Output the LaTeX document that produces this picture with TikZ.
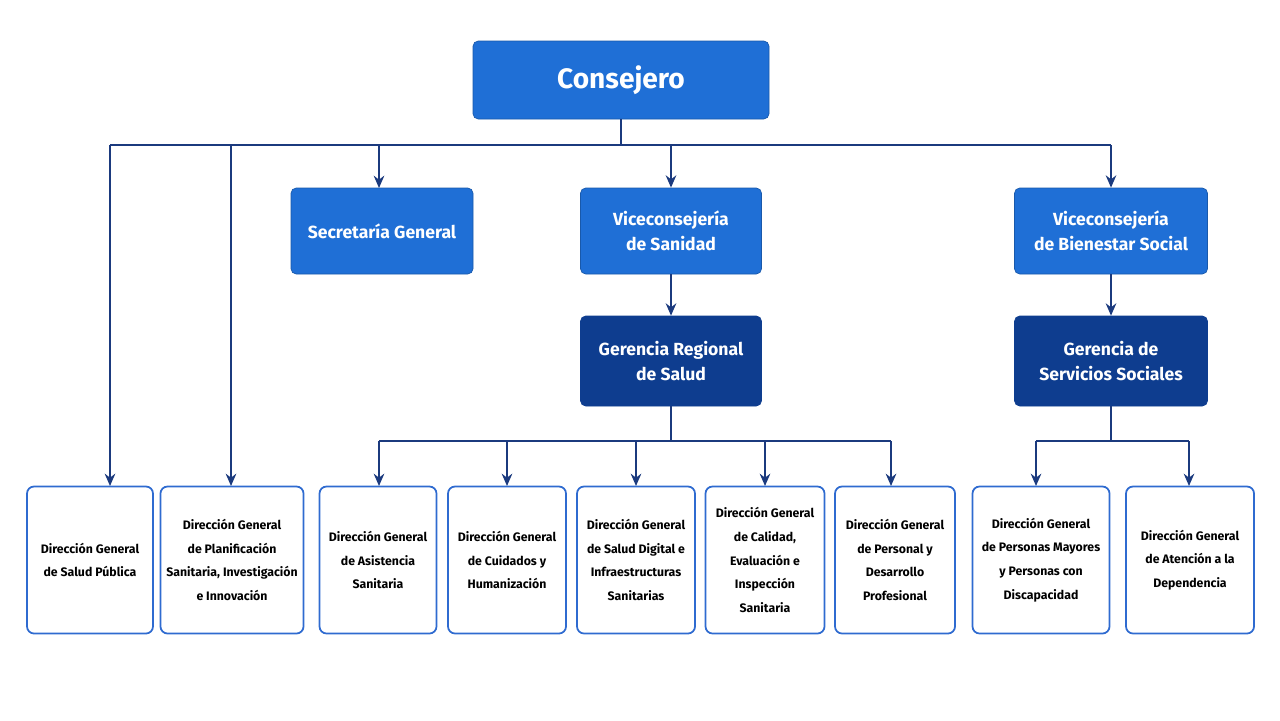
\documentclass[tikz,border=0pt]{standalone}
\usepackage{fontspec}
\setmainfont{Fira Sans}
\usetikzlibrary{arrows.meta}
\definecolor{midblue}{HTML}{1F6FD6}
\definecolor{navybox}{HTML}{0E3D8F}
\definecolor{navyline}{HTML}{1B3A7E}
\definecolor{edgeblue}{HTML}{2F6BD0}
\tikzset{>={Stealth[length=7pt,width=6pt]}}
\tikzset{%
    topbox/.style={draw=midblue!80!black,fill=midblue,rounded corners=3pt,text=white,
        font=\fontsize{16}{19}\selectfont\bfseries,minimum width=296*0.02cm,minimum height=78*0.02cm},
    midbox/.style={draw=midblue!80!black,fill=midblue,rounded corners=3pt,text=white,align=center,
        font=\fontsize{10}{14}\selectfont\bfseries,minimum height=86*0.02cm},
    darkbox/.style={midbox,fill=navybox,draw=navybox,minimum height=90*0.02cm},
    leafbox/.style={draw=edgeblue,line width=1pt,fill=white,rounded corners=4pt,align=center,
        font=\fontsize{7}{13.5}\selectfont\bfseries,minimum height=147*0.02cm},
    link/.style={draw=navyline,line width=1.4pt}
}
\begin{document}
\begin{tikzpicture}[x=0.02cm,y=-0.02cm]
    \useasboundingbox (0,0) rectangle (1280,720);

    \node[topbox] (cons) at (621,80) {Consejero};
    \node[midbox,minimum width=182*0.02cm] (sec) at (382,231) {Secretaría General};
    \node[midbox,minimum width=181*0.02cm] (vsan) at (671,231) {Viceconsejería\\de Sanidad};
    \node[midbox,minimum width=193*0.02cm] (vbien) at (1111,231) {Viceconsejería\\de Bienestar Social};
    \node[darkbox,minimum width=181*0.02cm] (grs) at (671,361) {Gerencia Regional\\de Salud};
    \node[darkbox,minimum width=193*0.02cm] (gss) at (1111,361) {Gerencia de\\Servicios Sociales};

    \node[leafbox,minimum width=126*0.02cm] (dsp) at (90,560) {Dirección General\\de Salud Pública};
    \node[leafbox,minimum width=135*0.02cm] (dpl) at (232,560) {Dirección General\\de Planificación\\Sanitaria, Investigación\\e Innovación};
    \node[leafbox,minimum width=117*0.02cm] (das) at (378,560) {Dirección General\\de Asistencia\\Sanitaria};
    \node[leafbox,minimum width=118*0.02cm] (dcu) at (507,560) {Dirección General\\de Cuidados y\\Humanización};
    \node[leafbox,minimum width=118*0.02cm] (ddi) at (636,560) {Dirección General\\de Salud Digital e\\Infraestructuras\\Sanitarias};
    \node[leafbox,minimum width=119*0.02cm] (dca) at (765,560) {Dirección General\\de Calidad,\\Evaluación e\\Inspección\\Sanitaria};
    \node[leafbox,minimum width=120*0.02cm] (dpe) at (895,560) {Dirección General\\de Personal y\\Desarrollo\\Profesional};
    \node[leafbox,minimum width=137*0.02cm] (dpm) at (1041,560) {Dirección General\\de Personas Mayores\\y Personas con\\Discapacidad};
    \node[leafbox,minimum width=128*0.02cm] (dat) at (1190,560) {Dirección General\\de Atención a la\\Dependencia};

    % first level
    \coordinate (busA) at (621,145);
    \draw[link] (cons.south) -- (busA);
    \draw[link] (110,145) -- (1111,145);
    \draw[link,->] (110,145) -- (110,486);
    \draw[link,->] (231,145) -- (231,486);
    \draw[link,->] (379,145) -- (379,188);
    \draw[link,->] (vsan.north |- busA) -- (vsan.north);
    \draw[link,->] (vbien.north |- busA) -- (vbien.north);
    \draw[link,->] (vsan) -- (grs);
    \draw[link,->] (vbien) -- (gss);

    % second level
    \draw[link] (grs.south) -- (671,441);
    \draw[link] (379,441) -- (891,441);
    \foreach \xx in {379,507,636,765,891}
        \draw[link,->] (\xx,441) -- (\xx,486);
    \draw[link] (gss.south) -- (1111,441);
    \draw[link] (1036,441) -- (1189,441);
    \foreach \xx in {1036,1189}
        \draw[link,->] (\xx,441) -- (\xx,486);
\end{tikzpicture}
\end{document}
